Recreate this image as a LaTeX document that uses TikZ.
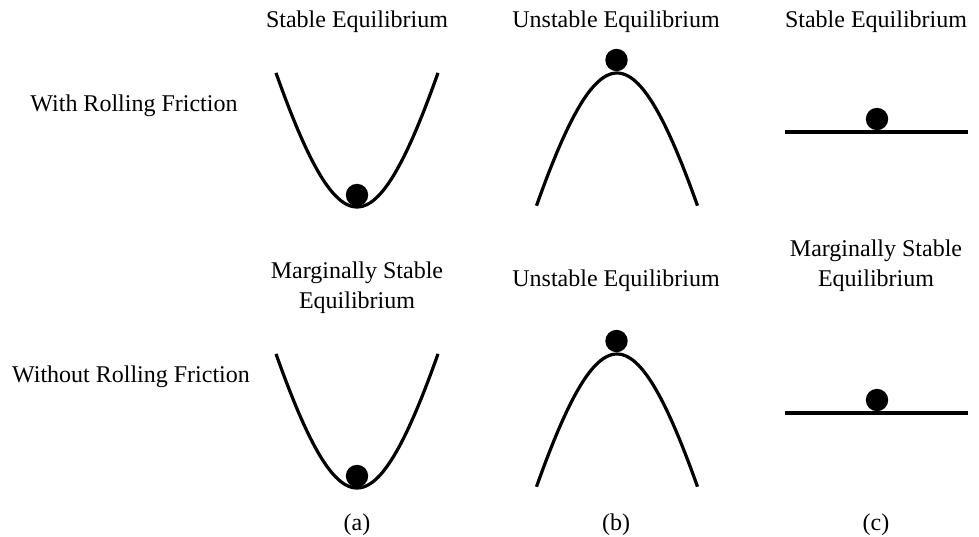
\documentclass[tikz,border=0pt]{standalone}
\usepackage{fontspec}
\setmainfont{Liberation Serif}
\tikzset{
  lbl/.style={font=\fontsize{12}{15}\selectfont,align=center,inner sep=0pt},
  curve/.style={line width=1.6pt},
  ball/.style={fill=black}
}
\begin{document}
\begin{tikzpicture}[x=0.5pt,y=-0.5pt]
\useasboundingbox (0,0) rectangle (979,536);

% column titles, first row
\node[lbl,anchor=base] (sa) at (357,27) {Stable Equilibrium};
\node[lbl,anchor=base] (ua) at (616,27) {Unstable Equilibrium};
\node[lbl,anchor=base] (sc) at (876,27) {Stable Equilibrium};
% column titles, second row
\node[lbl] (ma) at (357,287.5) {Marginally Stable\\Equilibrium};
\node[lbl,anchor=base] (ub) at (616,286.5) {Unstable Equilibrium};
\node[lbl] (mc) at (876,266) {Marginally Stable\\Equilibrium};

% row labels
\node[lbl,anchor=base] (wrf) at (134,111) {With Rolling Friction};
\node[lbl,anchor=base] (worf) at (131,382.5) {Without Rolling Friction};

% column letters
\node[lbl,anchor=base] (la) at (357,530) {(a)};
\node[lbl,anchor=base] (lb) at (616,530) {(b)};
\node[lbl,anchor=base] (lc) at (876,530) {(c)};

\foreach \dy in {0,281}{
  % valley
  \draw[curve] plot[domain=-81:81,samples=61,smooth]
    ({357+\x},{207+\dy-317*(sqrt(1+(\x/80)^2)-1)});
  \fill[ball] (357,195+\dy) circle[radius=11.2];
  % hill
  \draw[curve] plot[domain=-80.5:80.5,samples=61,smooth]
    ({617+\x},{73+\dy+317*(sqrt(1+(\x/80)^2)-1)});
  \fill[ball] (616.5,60+\dy) circle[radius=11.2];
  % flat
  \draw[curve] (785,132+\dy) -- (968,132+\dy);
  \fill[ball] (877,119+\dy) circle[radius=11.2];
}
\end{tikzpicture}
\end{document}
